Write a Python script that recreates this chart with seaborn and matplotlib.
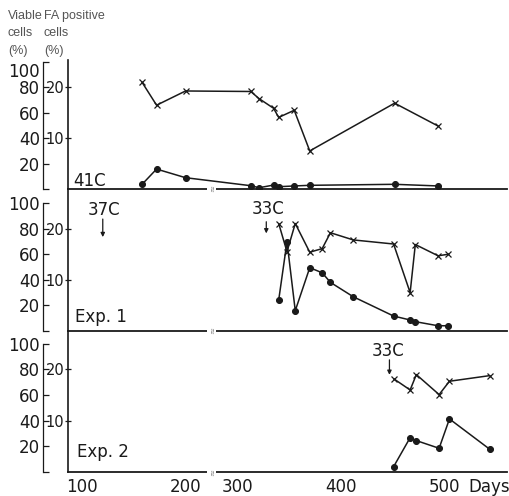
import numpy as np
import pandas as pd
import seaborn as sns
import matplotlib.pyplot as plt
from matplotlib.ticker import FixedLocator
from matplotlib.transforms import ScaledTranslation

# Данные
days_41 = [158, 172, 200, 313, 321, 335, 340, 355, 370, 452, 494]
viable_41 = [3.7, 15.7, 8.9, 2.6, 1.0, 3.1, 1.8, 2.4, 2.9, 3.7, 2.4]
fa_41 = [21.0, 16.5, 19.3, 19.2, 17.8, 15.9, 14.1, 15.5, 7.5, 16.9, 12.4]

days_exp1 = [340, 348, 356, 370, 382, 390, 412, 451, 467, 472, 494, 504]
viable_exp1 = [24.2, 69.8, 15.9, 49.5, 45.5, 38.0, 26.8, 11.7, 8.6, 7.3, 4.1, 4.1]
fa_exp1 = [21.0, 15.5, 21.0, 15.4, 16.1, 19.2, 17.8, 17.0, 7.5, 16.9, 14.7, 15.0]

days_exp2 = [451, 467, 473, 495, 505, 544]
viable_exp2 = [4.1, 26.8, 24.5, 18.5, 41.4, 17.7]
fa_exp2 = [18.2, 16.0, 19.0, 15.1, 17.7, 18.8]

viable_ticks = [0, 20, 40, 60, 80, 100]
viable_labels = ['', '20', '40', '60', '80', '100']
fa_ticks = [10, 20]
day_ticks = [100, 200, 300, 400, 500]
day_minor = [150, 350, 450]

sns.set_style('white')
plt.rcParams['font.family'] = ['DejaVu Sans']
INK = '#1a1a1a'

# разрыв оси: 225..275 дней вырезано
def fwd(x):
    x = np.asarray(x, dtype=float)
    return np.where(x > 275, x - 50, np.minimum(x, 225))

def inv(y):
    y = np.asarray(y, dtype=float)
    return np.where(y > 225, y + 50, y)

fig = plt.figure(figsize=(5.1, 4.96), dpi=100)
left, width = 68 / 510, 439 / 510
panels = [
    # bottom, height, ytop
    (1 - 189 / 496, 129 / 496, 101.6),
    (1 - 331 / 496, 142 / 496, 111),
    (1 - 472 / 496, 141 / 496, 110),
]
series = [
    (days_41, viable_41, fa_41),
    (days_exp1, viable_exp1, fa_exp1),
    (days_exp2, viable_exp2, fa_exp2),
]

axes = []
for i, ((bottom, height, ytop), (d, v, f)) in enumerate(zip(panels, series)):
    ax = fig.add_axes([left, bottom, width, height])
    ax2 = ax.twinx()
    ax.set_xscale('function', functions=(fwd, inv))
    ax.set_xlim(86.4, 560.6)
    ax.set_ylim(0, ytop)
    ax2.set_ylim(0, ytop / 4)
    ax.patch.set_alpha(0)

    sns.lineplot(x=d, y=v, ax=ax, color=INK, marker='o', markersize=4.3,
                 markeredgecolor=INK, linewidth=1.1, estimator=None, sort=False)
    sns.lineplot(x=d, y=f, ax=ax2, color=INK, marker='x', markersize=5,
                 markeredgecolor=INK, markeredgewidth=0.9, linewidth=1.1,
                 estimator=None, sort=False)

    # внешняя ось: жизнеспособные клетки
    for s in ['top', 'right']:
        ax.spines[s].set_visible(False)
    ax.spines['left'].set_position(('outward', 18))
    ax.spines['left'].set_bounds(0, 100)
    ax.spines['left'].set_linewidth(0.9)
    ax.spines['left'].set_color(INK)
    ax.spines['bottom'].set_linewidth(1.3)
    ax.spines['bottom'].set_color(INK)
    ax.set_yticks(viable_ticks)
    ax.set_yticklabels(viable_labels)
    ax.tick_params(axis='y', direction='in', length=4, width=0.9, pad=2,
                   labelsize=12, colors=INK)

    # внутренняя ось: FA-положительные
    ax2.yaxis.tick_left()
    for s in ['top', 'right', 'bottom']:
        ax2.spines[s].set_visible(False)
    ax2.spines['left'].set_visible(True)
    ax2.spines['left'].set_linewidth(1.2)
    ax2.spines['left'].set_color(INK)
    ax2.set_yticks(fa_ticks)
    ax2.tick_params(axis='y', direction='inout', length=5, width=0.9, pad=0,
                    labelsize=10.5, colors=INK)
    ax.set_ylabel('')
    ax2.set_ylabel('')

    ax.xaxis.set_major_locator(FixedLocator(day_ticks))
    ax.xaxis.set_minor_locator(FixedLocator(day_minor))
    if i < 2:
        ax.tick_params(axis='x', which='both', length=0, labelbottom=False)
    else:
        ax.set_xticklabels([str(t) for t in day_ticks])
        ax.tick_params(axis='x', which='major', direction='in', length=3,
                       width=0.7, color='0.55', labelsize=12, labelcolor=INK, pad=4)
        ax.tick_params(axis='x', which='minor', direction='in', length=2,
                       width=0.6, color='0.7')
        ax.annotate('Days', xy=(543, 0), xycoords=ax.get_xaxis_transform(),
                    xytext=(0, -4.5), textcoords='offset points',
                    ha='center', va='top', fontsize=12, color=INK)

    # знак разрыва оси
    ax.text(225, 0, '\u2248', transform=ax.get_xaxis_transform(), rotation=90,
            ha='center', va='center', fontsize=6, color='0.5',
            bbox=dict(fc='white', ec='none', pad=0.1))
    axes.append(ax)

ax1, axe1, axe2 = axes

# в верхней панели подпись «100» опущена ниже засечки
lab100 = ax1.yaxis.get_major_ticks()[-1].label1
lab100.set_transform(lab100.get_transform() + ScaledTranslation(0, -8 / 100, fig.dpi_scale_trans))

ax1.text(91, 2.4, '41C', fontsize=12, color=INK, va='baseline')
axe1.text(93, 7.0, 'Exp. 1', fontsize=12, color=INK, va='baseline')
axe2.text(95, 12.0, 'Exp. 2', fontsize=12, color=INK, va='baseline')

arrow = dict(arrowstyle='-|>', color=INK, lw=0.9, mutation_scale=6,
             shrinkA=0, shrinkB=0)
axe1.text(121, 90.6, '37C', fontsize=12, color=INK, ha='center', va='baseline')
axe1.annotate('', xy=(120, 73.4), xytext=(120, 87.5), arrowprops=arrow)
axe1.text(329.5, 91.4, '33C', fontsize=12, color=INK, ha='center', va='baseline')
axe1.annotate('', xy=(328, 76.3), xytext=(328, 85.4), arrowprops=arrow)
axe2.text(445.7, 90.6, '33C', fontsize=12, color=INK, ha='center', va='baseline')
axe2.annotate('', xy=(447, 75.8), xytext=(447, 87.5), arrowprops=arrow)

# заголовки осей
hdr = dict(fontsize=9, color='#555555', family=['Liberation Sans', 'DejaVu Sans'])
fig.text(8 / 510, 1 - 19 / 496, 'Viable', **hdr)
fig.text(44 / 510, 1 - 19 / 496, 'FA positive', **hdr)
fig.text(8 / 510, 1 - 36 / 496, 'cells', **hdr)
fig.text(44 / 510, 1 - 36 / 496, 'cells', **hdr)
fig.text(8 / 510, 1 - 54 / 496, '(%)', **hdr)
fig.text(44 / 510, 1 - 54 / 496, '(%)', **hdr)

fig.savefig('out.png', dpi=100)
